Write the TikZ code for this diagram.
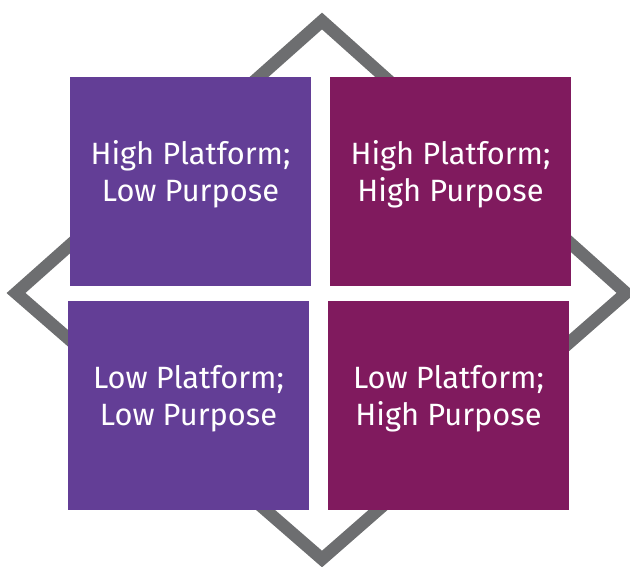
\documentclass[tikz,border=0pt]{standalone}
\usepackage{fontspec}
\setmainfont{Fira Sans}
\definecolor{platpurple}{HTML}{633E96}
\definecolor{platplum}{HTML}{801A5E}
\definecolor{framegray}{HTML}{6D6E70}

\begin{document}
\begin{tikzpicture}[%
      x=1pt, y=-1pt,
      quad/.style={minimum width=241pt, minimum height=209pt, inner sep=0pt},
      quadtext/.style={text=white, align=center, yshift=7pt,
        font=\fontsize{30.8}{37}\selectfont},
      ]
      \useasboundingbox (0,0) rectangle (630,566);
      \coordinate (top) at (322,21);
      \coordinate (left) at (16,293);
      \coordinate (bottom) at (322,559);
      \coordinate (right) at (626,293);
      \draw [color=framegray, line width=12.5pt, line join=miter] (top) -- (left) -- (bottom) -- (right) -- cycle;

      \node [quad, fill=platpurple, label={[quadtext]center:High Platform;\\Low Purpose}] (hplp) at (190.5,181.5) {};
      \node [quad, fill=platplum, label={[quadtext]center:High Platform;\\High Purpose}] (hphp) at (450.5,181.5) {};
      \node [quad, fill=platpurple, label={[quadtext]center:Low Platform;\\Low Purpose}] (lplp) at (188.5,405.5) {};
      \node [quad, fill=platplum, label={[quadtext]center:Low Platform;\\High Purpose}] (lphp) at (448.5,405.5) {};
\end{tikzpicture}
\end{document}
